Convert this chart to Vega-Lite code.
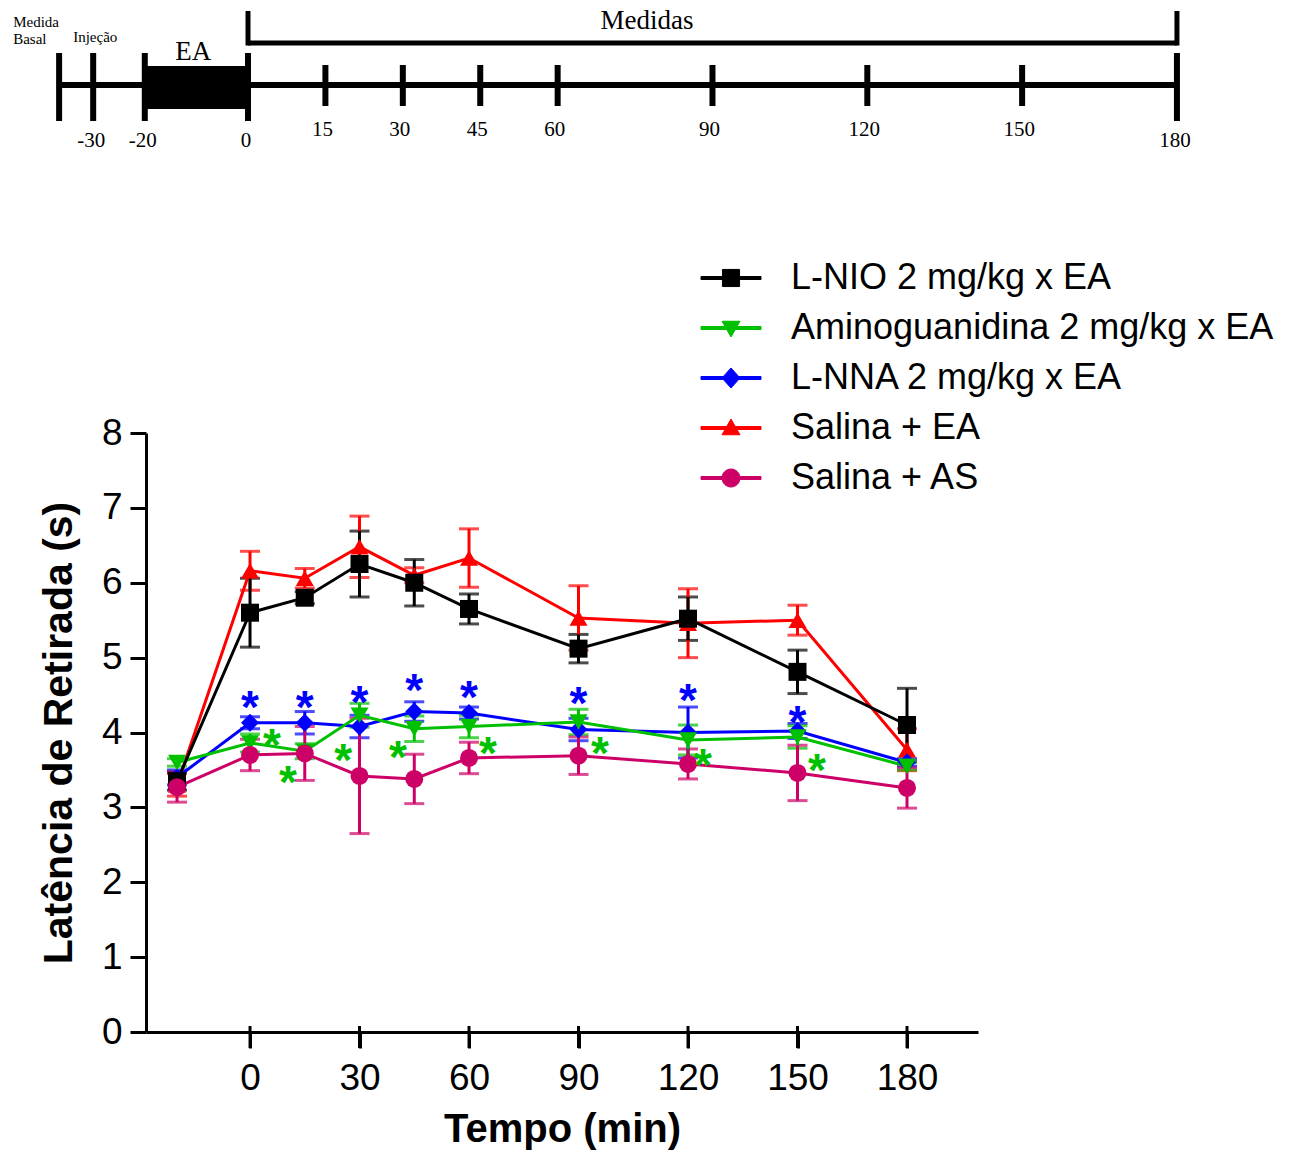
{
  "$schema": "https://vega.github.io/schema/vega-lite/v6.json",
  "width": 832,
  "height": 599,
  "autosize": {"type": "none"},
  "padding": {"left": 146, "top": 433, "right": 317, "bottom": 119},
  "background": "white",
  "config": {"view": {"stroke": null}, "font": "Liberation Sans"},
  "datasets": {
    "main": [
      {"series": "Salina + EA", "t": -20, "value": 3.30, "sem": 0.15},
      {"series": "Salina + EA", "t": 0, "value": 6.16, "sem": 0.26},
      {"series": "Salina + EA", "t": 15, "value": 6.06, "sem": 0.13},
      {"series": "Salina + EA", "t": 30, "value": 6.48, "sem": 0.41},
      {"series": "Salina + EA", "t": 45, "value": 6.10, "sem": 0.10},
      {"series": "Salina + EA", "t": 60, "value": 6.33, "sem": 0.39},
      {"series": "Salina + EA", "t": 90, "value": 5.53, "sem": 0.43},
      {"series": "Salina + EA", "t": 120, "value": 5.46, "sem": 0.46},
      {"series": "Salina + EA", "t": 150, "value": 5.50, "sem": 0.20},
      {"series": "Salina + EA", "t": 180, "value": 3.77, "sem": 0.28},
      {"series": "L-NNA 2 mg/kg x EA", "t": -20, "value": 3.40, "sem": 0.10},
      {"series": "L-NNA 2 mg/kg x EA", "t": 0, "value": 4.13, "sem": 0.08},
      {"series": "L-NNA 2 mg/kg x EA", "t": 15, "value": 4.13, "sem": 0.15},
      {"series": "L-NNA 2 mg/kg x EA", "t": 30, "value": 4.08, "sem": 0.15},
      {"series": "L-NNA 2 mg/kg x EA", "t": 45, "value": 4.28, "sem": 0.13},
      {"series": "L-NNA 2 mg/kg x EA", "t": 60, "value": 4.26, "sem": 0.08},
      {"series": "L-NNA 2 mg/kg x EA", "t": 90, "value": 4.04, "sem": 0.15},
      {"series": "L-NNA 2 mg/kg x EA", "t": 120, "value": 4.00, "sem": 0.34},
      {"series": "L-NNA 2 mg/kg x EA", "t": 150, "value": 4.02, "sem": 0.10},
      {"series": "L-NNA 2 mg/kg x EA", "t": 180, "value": 3.60, "sem": 0.05},
      {"series": "Aminoguanidina 2 mg/kg x EA", "t": -20, "value": 3.60, "sem": 0.05},
      {"series": "Aminoguanidina 2 mg/kg x EA", "t": 0, "value": 3.86, "sem": 0.12},
      {"series": "Aminoguanidina 2 mg/kg x EA", "t": 15, "value": 3.75, "sem": 0.10},
      {"series": "Aminoguanidina 2 mg/kg x EA", "t": 30, "value": 4.23, "sem": 0.16},
      {"series": "Aminoguanidina 2 mg/kg x EA", "t": 45, "value": 4.05, "sem": 0.17},
      {"series": "Aminoguanidina 2 mg/kg x EA", "t": 60, "value": 4.08, "sem": 0.15},
      {"series": "Aminoguanidina 2 mg/kg x EA", "t": 90, "value": 4.14, "sem": 0.17},
      {"series": "Aminoguanidina 2 mg/kg x EA", "t": 120, "value": 3.90, "sem": 0.20},
      {"series": "Aminoguanidina 2 mg/kg x EA", "t": 150, "value": 3.94, "sem": 0.15},
      {"series": "Aminoguanidina 2 mg/kg x EA", "t": 180, "value": 3.55, "sem": 0.05},
      {"series": "L-NIO 2 mg/kg x EA", "t": -20, "value": 3.35, "sem": 0.12},
      {"series": "L-NIO 2 mg/kg x EA", "t": 0, "value": 5.60, "sem": 0.46},
      {"series": "L-NIO 2 mg/kg x EA", "t": 15, "value": 5.80, "sem": 0.08},
      {"series": "L-NIO 2 mg/kg x EA", "t": 30, "value": 6.25, "sem": 0.44},
      {"series": "L-NIO 2 mg/kg x EA", "t": 45, "value": 6.00, "sem": 0.31},
      {"series": "L-NIO 2 mg/kg x EA", "t": 60, "value": 5.65, "sem": 0.20},
      {"series": "L-NIO 2 mg/kg x EA", "t": 90, "value": 5.12, "sem": 0.19},
      {"series": "L-NIO 2 mg/kg x EA", "t": 120, "value": 5.52, "sem": 0.29},
      {"series": "L-NIO 2 mg/kg x EA", "t": 150, "value": 4.81, "sem": 0.29},
      {"series": "L-NIO 2 mg/kg x EA", "t": 180, "value": 4.10, "sem": 0.49},
      {"series": "Salina + AS", "t": -20, "value": 3.27, "sem": 0.20},
      {"series": "Salina + AS", "t": 0, "value": 3.70, "sem": 0.21},
      {"series": "Salina + AS", "t": 15, "value": 3.72, "sem": 0.36},
      {"series": "Salina + AS", "t": 30, "value": 3.42, "sem": 0.77},
      {"series": "Salina + AS", "t": 45, "value": 3.38, "sem": 0.33},
      {"series": "Salina + AS", "t": 60, "value": 3.66, "sem": 0.21},
      {"series": "Salina + AS", "t": 90, "value": 3.69, "sem": 0.25},
      {"series": "Salina + AS", "t": 120, "value": 3.58, "sem": 0.20},
      {"series": "Salina + AS", "t": 150, "value": 3.46, "sem": 0.37},
      {"series": "Salina + AS", "t": 180, "value": 3.26, "sem": 0.27}
    ],
    "stars": [
      {"series": "L-NNA 2 mg/kg x EA", "t": 0, "value": 4.47},
      {"series": "L-NNA 2 mg/kg x EA", "t": 15, "value": 4.47},
      {"series": "L-NNA 2 mg/kg x EA", "t": 30, "value": 4.54},
      {"series": "L-NNA 2 mg/kg x EA", "t": 45, "value": 4.70},
      {"series": "L-NNA 2 mg/kg x EA", "t": 60, "value": 4.61},
      {"series": "L-NNA 2 mg/kg x EA", "t": 90, "value": 4.53},
      {"series": "L-NNA 2 mg/kg x EA", "t": 120, "value": 4.57},
      {"series": "L-NNA 2 mg/kg x EA", "t": 150, "value": 4.27},
      {"series": "Aminoguanidina 2 mg/kg x EA", "t": 6.0, "value": 3.97},
      {"series": "Aminoguanidina 2 mg/kg x EA", "t": 10.4, "value": 3.47},
      {"series": "Aminoguanidina 2 mg/kg x EA", "t": 25.5, "value": 3.77},
      {"series": "Aminoguanidina 2 mg/kg x EA", "t": 40.5, "value": 3.81},
      {"series": "Aminoguanidina 2 mg/kg x EA", "t": 65.2, "value": 3.86},
      {"series": "Aminoguanidina 2 mg/kg x EA", "t": 95.9, "value": 3.86},
      {"series": "Aminoguanidina 2 mg/kg x EA", "t": 124.1, "value": 3.70},
      {"series": "Aminoguanidina 2 mg/kg x EA", "t": 155.3, "value": 3.63}
    ],
    "xticks": [{"t": 0}, {"t": 30}, {"t": 60}, {"t": 90}, {"t": 120}, {"t": 150}, {"t": 180}],
    "tl_ticks": [
      {"t": -36.6, "kind": "long", "label": ""},
      {"t": -30, "kind": "long", "label": "-30"},
      {"t": -20, "kind": "long", "label": "-20"},
      {"t": 0, "kind": "long", "label": "0"},
      {"t": 15, "kind": "short", "label": "15"},
      {"t": 30, "kind": "short", "label": "30"},
      {"t": 45, "kind": "short", "label": "45"},
      {"t": 60, "kind": "short", "label": "60"},
      {"t": 90, "kind": "short", "label": "90"},
      {"t": 120, "kind": "short", "label": "120"},
      {"t": 150, "kind": "short", "label": "150"},
      {"t": 180, "kind": "long", "label": "180"}
    ],
    "tl_span": [{"start": -36.6, "end": 180}],
    "tl_box": [{"start": -20, "end": 0}],
    "tl_bracket": [{"start": 0, "end": 180}],
    "tl_text": [
      {"t": -10.6, "label": "EA", "role": "ea"},
      {"t": 77.3, "label": "Medidas", "role": "medidas"},
      {"t": -45.5, "label": "Medida\nBasal", "role": "basal"},
      {"t": -29.6, "label": "Injeção", "role": "inj"}
    ]
  },
  "layer": [
    {
      "encoding": {
        "x": {"field": "t", "type": "quantitative",
          "scale": {"domain": [-28.5, 199.45], "nice": false, "zero": false},
          "axis": {"values": [0, 30, 60, 90, 120, 150, 180], "title": "Tempo (min)", "grid": false, "ticks": true, "domain": true,
            "domainColor": "#000", "domainWidth": 3, "tickColor": "#000", "tickWidth": 3, "tickSize": 16,
            "labelFont": "Liberation Sans", "labelFontSize": 37, "labelColor": "#000", "labelPadding": 12,
            "titleFont": "Liberation Sans", "titleFontSize": 40, "titleFontWeight": "bold", "titleColor": "#000", "titlePadding": 13}},
        "y": {"field": "value", "type": "quantitative",
          "scale": {"domain": [0, 8], "nice": false, "zero": false},
          "axis": {"values": [0, 1, 2, 3, 4, 5, 6, 7, 8], "title": "Latência de Retirada (s)", "grid": false, "ticks": true, "domain": true,
            "domainColor": "#000", "domainWidth": 3, "tickColor": "#000", "tickWidth": 3, "tickSize": 16,
            "labelFont": "Liberation Sans", "labelFontSize": 37, "labelColor": "#000", "labelPadding": 8,
            "titleFont": "Liberation Sans", "titleFontSize": 41, "titleFontWeight": "bold", "titleColor": "#000", "titlePadding": 21}},
        "color": {"field": "series", "type": "nominal",
          "scale": {"domain": ["L-NIO 2 mg/kg x EA", "Aminoguanidina 2 mg/kg x EA", "L-NNA 2 mg/kg x EA", "Salina + EA", "Salina + AS"],
                    "range": ["#000000", "#00C000", "#0000FF", "#FF0000", "#CC0066"]},
          "legend": {"orient": "none", "legendX": 567, "legendY": -173, "title": null, "direction": "vertical",
            "labelFont": "Liberation Sans", "labelFontSize": 36, "labelColor": "#000", "labelLimit": 2000,
            "labelOffset": 42, "symbolSize": 900, "rowPadding": 14, "padding": 0, "symbolStrokeWidth": 1,
            "encode": {"symbols": {"update": {
              "shape": {"signal": "datum.value == 'L-NIO 2 mg/kg x EA' ? 'M-2,-0.1H2V0.1H-2ZM-0.57,-0.57H0.57V0.57H-0.57Z' : datum.value == 'Aminoguanidina 2 mg/kg x EA' ? 'M-2,-0.1H2V0.1H-2ZM-0.6,-0.45H0.6L0,0.6Z' : datum.value == 'L-NNA 2 mg/kg x EA' ? 'M-2,-0.1H2V0.1H-2ZM0,-0.67L0.6,0L0,0.67L-0.6,0Z' : datum.value == 'Salina + EA' ? 'M-2,-0.1H2V0.1H-2ZM0,-0.6L0.6,0.45H-0.6Z' : 'M-2,-0.1H2V0.1H-2ZM-0.6,0A0.6,0.6 0 1,1 0.6,0A0.6,0.6 0 1,1 -0.6,0Z'"},
              "strokeWidth": {"value": 1}
            }}}}}
      },
      "layer": [
        {"data": {"name": "main"},
         "mark": {"type": "errorbar", "ticks": true, "size": 20, "thickness": 3},
         "encoding": {"yError": {"field": "sem"}}},
        {"data": {"name": "main"},
         "mark": {"type": "line", "strokeWidth": 3}},
        {"data": {"name": "main"}, "transform": [{"filter": "datum.series == 'Salina + EA'"}],
         "mark": {"type": "point", "shape": "triangle-up", "filled": true, "size": 324, "opacity": 1}},
        {"data": {"name": "main"}, "transform": [{"filter": "datum.series == 'L-NNA 2 mg/kg x EA'"}],
         "mark": {"type": "point", "shape": "diamond", "filled": true, "size": 324, "opacity": 1}},
        {"data": {"name": "main"}, "transform": [{"filter": "datum.series == 'Aminoguanidina 2 mg/kg x EA'"}],
         "mark": {"type": "point", "shape": "triangle-down", "filled": true, "size": 324, "opacity": 1}},
        {"data": {"name": "main"}, "transform": [{"filter": "datum.series == 'L-NIO 2 mg/kg x EA'"}],
         "mark": {"type": "point", "shape": "square", "filled": true, "size": 324, "opacity": 1}},
        {"data": {"name": "main"}, "transform": [{"filter": "datum.series == 'Salina + AS'"}],
         "mark": {"type": "point", "shape": "circle", "filled": true, "size": 324, "opacity": 1}},
        {"data": {"name": "stars"},
         "mark": {"type": "text", "text": "*", "font": "Liberation Sans", "fontSize": 46, "fontWeight": "bold", "align": "center", "baseline": "alphabetic", "dy": 26}}
      ]
    },
    {
      "data": {"name": "xticks"},
      "mark": {"type": "rule", "strokeWidth": 3, "color": "#000"},
      "encoding": {
        "x": {"field": "t", "type": "quantitative", "scale": {"domain": [-28.5, 199.45], "nice": false, "zero": false}, "axis": null},
        "y": {"datum": 0.08, "type": "quantitative", "scale": {"domain": [0, 8], "nice": false, "zero": false}, "axis": null},
        "y2": {"datum": -0.2137}
      }
    },
    {
      "encoding": {
        "x": {"field": "t", "type": "quantitative", "scale": {"domain": [-19.764, 141.45], "nice": false, "zero": false}, "axis": null}
      },
      "layer": [
        {"data": {"name": "tl_span"}, "mark": {"type": "rule", "strokeWidth": 6, "color": "#000"},
         "encoding": {"x": {"field": "start", "type": "quantitative"},
                      "x2": {"field": "end"},
                      "y": {"datum": 0, "type": "quantitative", "scale": {"domain": [-94.7, -34.8], "nice": false, "zero": false}, "axis": null}}},
        {"data": {"name": "tl_box"}, "mark": {"type": "rect", "color": "#000"},
         "encoding": {"x": {"field": "start", "type": "quantitative"},
                      "x2": {"field": "end"},
                      "y": {"datum": 1.9, "type": "quantitative", "scale": {"domain": [-94.7, -34.8], "nice": false, "zero": false}, "axis": null},
                      "y2": {"datum": -2.4}}},
        {"data": {"name": "tl_ticks"}, "transform": [{"filter": "datum.kind == 'long'"}],
         "mark": {"type": "rule", "strokeWidth": 6, "color": "#000"},
         "encoding": {"y": {"datum": 3.2, "type": "quantitative", "scale": {"domain": [-94.7, -34.8], "nice": false, "zero": false}, "axis": null},
                      "y2": {"datum": -3.6}}},
        {"data": {"name": "tl_ticks"}, "transform": [{"filter": "datum.kind == 'short'"}],
         "mark": {"type": "rule", "strokeWidth": 6, "color": "#000"},
         "encoding": {"y": {"datum": 2.0, "type": "quantitative", "scale": {"domain": [-94.7, -34.8], "nice": false, "zero": false}, "axis": null},
                      "y2": {"datum": -2.1}}},
        {"data": {"name": "tl_ticks"}, "transform": [{"filter": "datum.kind == 'long'"}],
         "mark": {"type": "text", "font": "Liberation Serif", "fontSize": 21, "color": "#000", "align": "center", "baseline": "alphabetic", "dx": -2},
         "encoding": {"y": {"datum": -6.2, "type": "quantitative", "scale": {"domain": [-94.7, -34.8], "nice": false, "zero": false}, "axis": null},
                      "text": {"field": "label"}}},
        {"data": {"name": "tl_ticks"}, "transform": [{"filter": "datum.kind == 'short'"}],
         "mark": {"type": "text", "font": "Liberation Serif", "fontSize": 21, "color": "#000", "align": "center", "baseline": "alphabetic", "dx": -3},
         "encoding": {"y": {"datum": -5.1, "type": "quantitative", "scale": {"domain": [-94.7, -34.8], "nice": false, "zero": false}, "axis": null},
                      "text": {"field": "label"}}},
        {"data": {"name": "tl_bracket"}, "mark": {"type": "rule", "strokeWidth": 5, "color": "#000"},
         "encoding": {"x": {"field": "start", "type": "quantitative"},
                      "x2": {"field": "end"},
                      "y": {"datum": 4.2, "type": "quantitative", "scale": {"domain": [-94.7, -34.8], "nice": false, "zero": false}, "axis": null}}},
        {"data": {"name": "tl_bracket"}, "mark": {"type": "rule", "strokeWidth": 5, "color": "#000"},
         "encoding": {"x": {"field": "start", "type": "quantitative"},
                      "y": {"datum": 3.95, "type": "quantitative", "scale": {"domain": [-94.7, -34.8], "nice": false, "zero": false}, "axis": null},
                      "y2": {"datum": 7.4}}},
        {"data": {"name": "tl_bracket"}, "mark": {"type": "rule", "strokeWidth": 5, "color": "#000"},
         "encoding": {"x": {"field": "end", "type": "quantitative"},
                      "y": {"datum": 3.95, "type": "quantitative", "scale": {"domain": [-94.7, -34.8], "nice": false, "zero": false}, "axis": null},
                      "y2": {"datum": 7.4}}},
        {"data": {"name": "tl_text"}, "transform": [{"filter": "datum.role == 'ea'"}],
         "mark": {"type": "text", "font": "Liberation Serif", "fontSize": 27, "color": "#000", "align": "center", "baseline": "alphabetic"},
         "encoding": {"y": {"datum": 2.5, "type": "quantitative", "scale": {"domain": [-94.7, -34.8], "nice": false, "zero": false}, "axis": null},
                      "text": {"field": "label"}}},
        {"data": {"name": "tl_text"}, "transform": [{"filter": "datum.role == 'medidas'"}],
         "mark": {"type": "text", "font": "Liberation Serif", "fontSize": 27, "color": "#000", "align": "center", "baseline": "alphabetic"},
         "encoding": {"y": {"datum": 5.6, "type": "quantitative", "scale": {"domain": [-94.7, -34.8], "nice": false, "zero": false}, "axis": null},
                      "text": {"field": "label"}}},
        {"data": {"name": "tl_text"}, "transform": [{"filter": "datum.role == 'basal'"}],
         "mark": {"type": "text", "font": "Liberation Serif", "fontSize": 15, "color": "#000", "align": "left", "baseline": "alphabetic", "lineBreak": "\n", "lineHeight": 17},
         "encoding": {"y": {"datum": 5.8, "type": "quantitative", "scale": {"domain": [-94.7, -34.8], "nice": false, "zero": false}, "axis": null},
                      "text": {"field": "label"}}},
        {"data": {"name": "tl_text"}, "transform": [{"filter": "datum.role == 'inj'"}],
         "mark": {"type": "text", "font": "Liberation Serif", "fontSize": 15, "color": "#000", "align": "center", "baseline": "alphabetic"},
         "encoding": {"y": {"datum": 4.3, "type": "quantitative", "scale": {"domain": [-94.7, -34.8], "nice": false, "zero": false}, "axis": null},
                      "text": {"field": "label"}}}
      ]
    }
  ],
  "resolve": {"scale": {"x": "independent", "y": "independent"}, "axis": {"x": "independent", "y": "independent"}}
}
